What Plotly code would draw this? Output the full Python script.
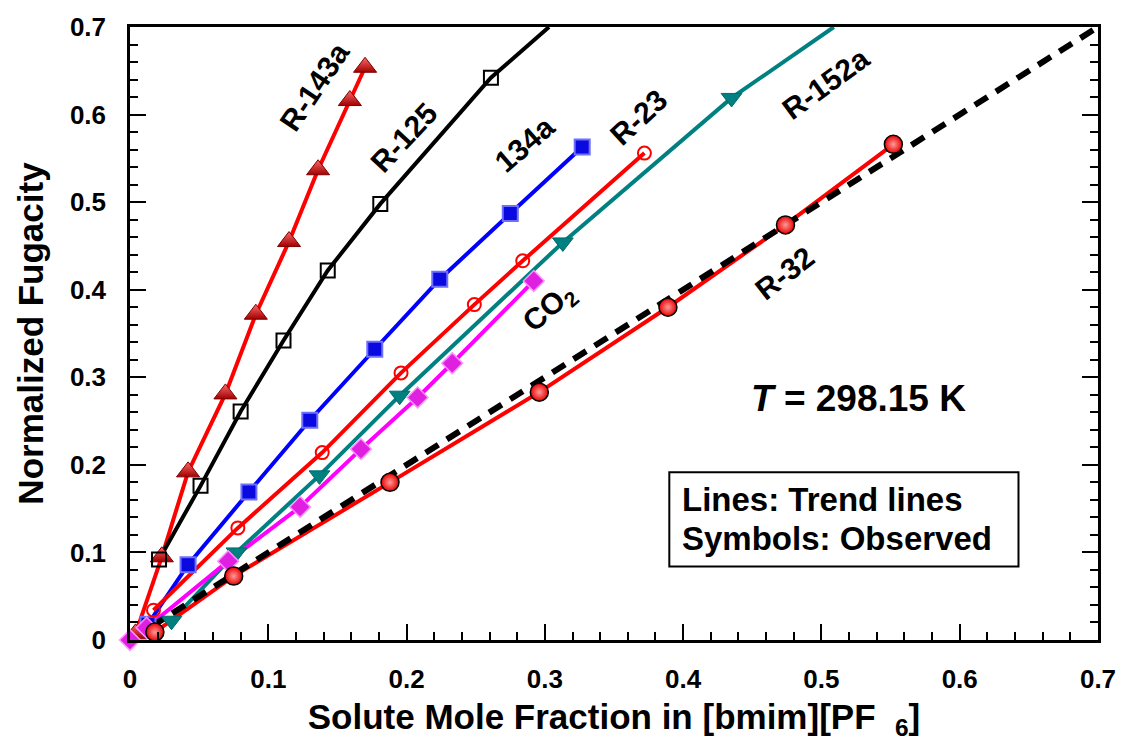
import plotly.graph_objects as go

# ---- data ----
r143a_x = [0.004, 0.023, 0.042, 0.069, 0.091, 0.115, 0.136, 0.159, 0.170]
r143a_y = [0.007, 0.095, 0.192, 0.281, 0.372, 0.455, 0.537, 0.616, 0.654]

r125_x = [0.021, 0.051, 0.080, 0.111, 0.143, 0.181, 0.261]
r125_y = [0.092, 0.176, 0.261, 0.342, 0.422, 0.498, 0.642]
r125_trend_x = r125_x + [0.303]
r125_trend_y = r125_y + [0.700]

r134a_x = [0.013, 0.042, 0.086, 0.130, 0.177, 0.224, 0.275, 0.327]
r134a_y = [0.018, 0.086, 0.169, 0.251, 0.332, 0.412, 0.487, 0.563]

r23_x = [0.017, 0.078, 0.139, 0.196, 0.249, 0.284, 0.372]
r23_y = [0.034, 0.128, 0.214, 0.305, 0.383, 0.433, 0.556]

r152a_x = [0.030, 0.077, 0.137, 0.195, 0.313, 0.435]
r152a_y = [0.022, 0.100, 0.188, 0.279, 0.454, 0.619]
r152a_trend_x = r152a_x + [0.509]
r152a_trend_y = r152a_y + [0.700]

co2_x = [0.000, 0.012, 0.071, 0.123, 0.167, 0.208, 0.233, 0.292]
co2_y = [0.000, 0.014, 0.090, 0.152, 0.218, 0.277, 0.316, 0.410]

r32_x = [0.018, 0.075, 0.188, 0.296, 0.389, 0.474, 0.552]
r32_y = [0.009, 0.073, 0.180, 0.283, 0.380, 0.474, 0.566]

ideal_x = [0.0, 0.7]
ideal_y = [0.0, 0.7]

tick_vals = [0.0, 0.1, 0.2, 0.3, 0.4, 0.5, 0.6, 0.7]
tick_text = ["0", "0.1", "0.2", "0.3", "0.4", "0.5", "0.6", "0.7"]

labels = ["R-143a", "R-125", "134a", "R-23", "R-152a", "CO<sub>2</sub>", "R-32"]
label_x = [0.1335, 0.198, 0.285, 0.3675, 0.503, 0.303, 0.473]
label_y = [0.632, 0.574, 0.566, 0.597, 0.636, 0.379, 0.419]
label_angle = [-56, -47, -41, -43, -36, -41, -38]

FONT = "Liberation Sans, Arial, Helvetica, sans-serif"

fig = go.Figure()

def line(x, y, color, width=4, dash=None):
    fig.add_trace(go.Scatter(x=x, y=y, mode="lines", cliponaxis=False,
                             line=dict(color=color, width=width, dash=dash),
                             showlegend=False, hoverinfo="skip"))

def marks(x, y, **m):
    fig.add_trace(go.Scatter(x=x, y=y, mode="markers", cliponaxis=False,
                             marker=m, showlegend=False))

# trend lines
line(r143a_x, r143a_y, "#ff0000")
line(r125_trend_x, r125_trend_y, "#000000")
line(r134a_x, r134a_y, "#0000ff")
line(r23_x, r23_y, "#ff0000")
line(r152a_trend_x, r152a_trend_y, "#008080")
line(co2_x, co2_y, "#ff00ff")
line(r32_x, r32_y, "#ff0000")
line(ideal_x, ideal_y, "#000000", width=6, dash="15px,10px")

# observed symbols
marks(r143a_x, r143a_y, symbol="triangle-up", size=20, color="#ff6a6a",
      gradient=dict(type="vertical", color="#a00000"),
      line=dict(color="#800000", width=1))
marks(r125_x, r125_y, symbol="square-open", size=14, color="#000000",
      line=dict(color="#000000", width=2))
marks(r134a_x, r134a_y, symbol="square", size=15, color="#0a0ae0",
      line=dict(color="#6f6fff", width=2))
marks(r23_x, r23_y, symbol="circle-open", size=13, color="#ff0000",
      line=dict(color="#ff0000", width=2))
marks(r152a_x, r152a_y, symbol="triangle-down", size=18, color="#008080",
      line=dict(color="#006a6a", width=1))
marks(co2_x, co2_y, symbol="diamond", size=16, color="#e020e0",
      line=dict(color="#ff90ff", width=1.5))
marks(r32_x, r32_y, symbol="circle", size=18, color="#e80000",
      gradient=dict(type="radial", color="#ff9a9a"),
      line=dict(color="#000000", width=1.5))

ann = []
for t, x, y, a in zip(labels, label_x, label_y, label_angle):
    ann.append(dict(x=x, y=y, xref="x", yref="y", text=t, showarrow=False,
                    textangle=a, font=dict(family=FONT, size=30, color="black", weight="bold"),
                    xanchor="center", yanchor="middle"))

ann.append(dict(x=0.527, y=0.276, xref="x", yref="y",
                text="<i>T</i> = 298.15 K", showarrow=False,
                font=dict(family=FONT, size=37, color="black", weight="bold"),
                xanchor="center", yanchor="middle"))
ann.append(dict(x=0.3975, y=0.160, xref="x", yref="y", text="Lines: Trend lines",
                showarrow=False, xanchor="left", yanchor="middle",
                font=dict(family=FONT, size=33, color="black", weight="bold")))
ann.append(dict(x=0.3975, y=0.1155, xref="x", yref="y", text="Symbols: Observed",
                showarrow=False, xanchor="left", yanchor="middle",
                font=dict(family=FONT, size=33, color="black", weight="bold")))

fig.add_shape(type="rect", xref="x", yref="y", x0=0.390, x1=0.6425, y0=0.084, y1=0.1917,
              line=dict(color="black", width=2), fillcolor="rgba(0,0,0,0)")

axis_common = dict(range=[0, 0.7], tickvals=tick_vals, ticktext=tick_text,
                   ticks="inside", ticklen=16, tickwidth=2, tickcolor="black",
                   showline=True, linecolor="black", linewidth=2.5,
                   showgrid=False, zeroline=False,
                   tickfont=dict(family=FONT, size=26, color="black", weight="bold"),
                   minor=dict(ticks="inside", ticklen=8, tickwidth=1.5, tickcolor="black",
                              dtick=0.02, tick0=0, showgrid=False))

fig.update_layout(
    width=1128, height=742,
    margin=dict(l=130, r=21, t=24, b=101),
    plot_bgcolor="white", paper_bgcolor="white",
    showlegend=False,
    annotations=ann,
    xaxis=dict(**axis_common, mirror=True, ticklabelstandoff=14,
               title=dict(text="Solute Mole Fraction in [bmim][PF  <sub>6</sub>]",
                          font=dict(family=FONT, size=35, color="black", weight="bold"),
                          standoff=12)),
    yaxis=dict(**axis_common, mirror="ticks", ticklabelstandoff=16,
               title=dict(text="Normalized Fugacity",
                          font=dict(family=FONT, size=35, color="black", weight="bold"),
                          standoff=16)),
)

fig.write_html("out.html")
